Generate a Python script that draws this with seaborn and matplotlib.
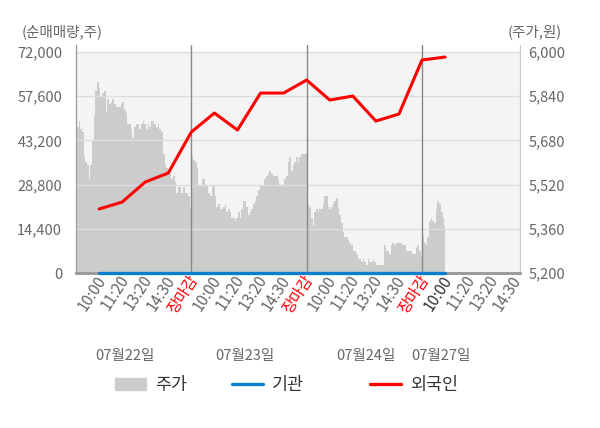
import numpy as np
import matplotlib
matplotlib.use("Agg")
import matplotlib.pyplot as plt
import matplotlib.patches as mpatches
import matplotlib.lines as mlines
import matplotlib.transforms as mtransforms
import seaborn as sns

# --- data ---
tick_labels = ['10:00', '11:20', '13:20', '14:30', '장마감',
               '10:00', '11:20', '13:20', '14:30', '장마감',
               '10:00', '11:20', '13:20', '14:30', '장마감',
               '10:00', '11:20', '13:20', '14:30']
day_labels = ['07월22일', '07월23일', '07월24일', '07월27일']

# net buying (shares), one point per time tick
foreign = [20850, 23130, 29650, 32580, 45940, 52130, 46590, 58640,
           58640, 62880, 56360, 57670, 49520, 51800, 69400, 70370]
institution = [0, 0, 0, 0, 0, 0, 0, 0, 0, 0, 0, 0, 0, 0, 0, 0]

# intraday price (won), per day
price_d1 = [5830, 5730, 5750, 5720, 5710, 5620, 5600, 5590, 5540, 5590,
            5680, 5770, 5860, 5890, 5870, 5840, 5850, 5860, 5780, 5830,
            5810, 5820, 5830, 5810, 5800, 5800, 5800, 5810, 5820, 5790,
            5780, 5740, 5740, 5720, 5690, 5730, 5740, 5740, 5720, 5740,
            5750, 5740, 5720, 5740, 5730, 5750, 5750, 5740, 5730, 5740,
            5720, 5710, 5630, 5590, 5580, 5570, 5560, 5540, 5550, 5530,
            5490, 5510, 5510, 5490, 5510, 5490, 5490, 5480, 5440]
price_d2 = [5620, 5610, 5600, 5580, 5520, 5520, 5540, 5540, 5520, 5520,
            5490, 5480, 5510, 5520, 5480, 5440, 5450, 5430, 5430, 5440,
            5450, 5420, 5430, 5420, 5400, 5400, 5390, 5400, 5420, 5400,
            5430, 5460, 5460, 5440, 5410, 5420, 5430, 5450, 5460, 5480,
            5500, 5520, 5520, 5520, 5540, 5550, 5560, 5570, 5560, 5550,
            5550, 5550, 5540, 5520, 5520, 5510, 5540, 5550, 5600, 5620,
            5570, 5590, 5600, 5620, 5600, 5620, 5630, 5630, 5630, 5630]
price_d3 = [5450, 5440, 5400, 5370, 5420, 5430, 5420, 5430, 5430, 5450,
            5480, 5480, 5440, 5430, 5440, 5450, 5460, 5470, 5440, 5410,
            5380, 5350, 5330, 5330, 5320, 5310, 5300, 5280, 5280, 5270,
            5250, 5250, 5240, 5250, 5240, 5230, 5250, 5240, 5240, 5250,
            5240, 5230, 5230, 5230, 5230, 5230, 5300, 5280, 5280, 5270,
            5300, 5310, 5300, 5310, 5310, 5310, 5310, 5300, 5300, 5280,
            5280, 5280, 5280, 5270, 5270, 5290, 5300, 5280, 5260]
price_d4 = [5330, 5310, 5300, 5330, 5390, 5400, 5390, 5380, 5430, 5460,
            5450, 5420, 5400, 5370]

# --- layout helpers ---
day_start = [0.0, 5.05, 10.08, 15.05]
day_end = [4.97, 10.0, 14.98, 16.0]
days = [price_d1, price_d2, price_d3, price_d4]
px = np.concatenate([np.linspace(s, e, len(p)) for s, e, p in zip(day_start, day_end, days)])
py = np.concatenate(days)
tick_pos = np.arange(1, len(tick_labels) + 1)
line_x = tick_pos[:len(foreign)]

sns.set_style("white")
plt.rcParams['font.family'] = ['Noto Sans CJK KR', 'DejaVu Sans']

fig = plt.figure(figsize=(6, 4.28), dpi=100)
ax = fig.add_axes([0.1267, 0.3621, 0.74, 0.5328])  # price axis (right ticks)
ax2 = ax.twinx()                                     # volume axis (left ticks)

ax.set_facecolor('white')
ax.axhspan(5200, 6000, color='#f4f4f4', zorder=0, lw=0)
ax.fill_between(px, 5200, py, step='mid', color='#cccccc', lw=0, zorder=1)
ax.set_ylim(5200, 6025)
ax.set_xlim(0, 19.25)
ax.set_yticks([5200, 5360, 5520, 5680, 5840, 6000])
ax.set_yticklabels(['5,200', '5,360', '5,520', '5,680', '5,840', '6,000'])
ax.yaxis.tick_right()
ax.grid(False)
for v in [5360, 5520, 5680, 5840, 6000]:
    ax.axhline(v, color='#dddddd', lw=1, zorder=2)
for v in [5, 10, 15]:
    ax.axvline(v, color='#888888', lw=1, zorder=3)

sns.lineplot(x=line_x, y=institution, ax=ax2, color='#0a7fd0', lw=2.4,
             zorder=5, clip_on=False)
sns.lineplot(x=line_x, y=foreign, ax=ax2, color='#ff0000', lw=2.2, zorder=6)
ax2.set_ylim(0, 74300)
ax2.set_yticks([0, 14400, 28800, 43200, 57600, 72000])
ax2.set_yticklabels(['0', '14,400', '28,800', '43,200', '57,600', '72,000'])
ax2.yaxis.tick_left()
ax2.grid(False)

for a in (ax, ax2):
    a.tick_params(axis='y', length=0, labelsize=10.5, labelcolor='#666666')
    a.spines['top'].set_visible(False)
    a.spines['left'].set_color('#999999')
    a.spines['right'].set_color('#cccccc')
    a.spines['bottom'].set_color('#999999')
    a.spines['bottom'].set_linewidth(1.8)
ax.tick_params(axis='y', pad=6)
ax2.tick_params(axis='y', pad=10)

ax.set_xticks(tick_pos)
ax.set_xticklabels(tick_labels, rotation=57, ha='right', va='top',
                   rotation_mode='anchor', fontsize=11)
ax.set_xticks([0, 5, 10, 15, 19.25], minor=True)
ax.tick_params(axis='x', which='major', length=0, pad=1)
ax.tick_params(axis='x', which='minor', length=4, color='#999999')
shift = mtransforms.ScaledTranslation(-4 / 100, 2 / 100, fig.dpi_scale_trans)
for i, lab in enumerate(ax.get_xticklabels()):
    lab.set_transform(lab.get_transform() + shift)
    if tick_labels[i] == '장마감':
        lab.set_color('#ff0000')
    elif i == 15:
        lab.set_color('#333333')
    else:
        lab.set_color('#666666')

# date labels under the time ticks
for x, d in zip([2.12, 7.33, 12.57, 15.8], day_labels):
    ax.text(x, -0.365, d, transform=ax.get_xaxis_transform(), ha='center',
            va='center', fontsize=10.5, color='#666666')

fig.text(0.036, 0.925, '(순매매량,주)', fontsize=10.5, color='#666666', va='center')
fig.text(0.936, 0.925, '(주가,원)', fontsize=10.5, color='#666666', va='center', ha='right')

# legend: three entries placed like the reference
legend_items = [(mpatches.Patch(color='#cccccc', label='주가'), 115),
                (mlines.Line2D([], [], color='#0a7fd0', lw=2.4, label='기관'), 232),
                (mlines.Line2D([], [], color='#ff0000', lw=2.4, label='외국인'), 370)]
for h, xpix in legend_items:
    fig.legend(handles=[h], loc='center left', bbox_to_anchor=(xpix / 600, 0.1),
               frameon=False, fontsize=12.5, handlelength=1.8, handletextpad=0.5,
               borderpad=0, borderaxespad=0, labelcolor='#333333')

fig.savefig('out.png', dpi=100)
